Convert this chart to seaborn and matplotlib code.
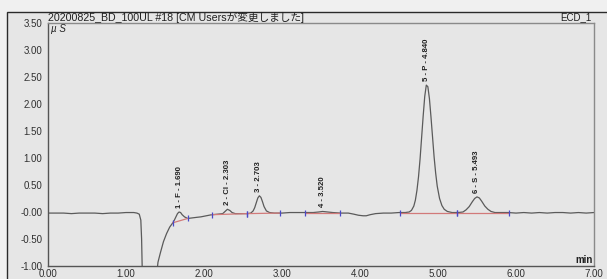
import matplotlib
matplotlib.use("Agg")
import matplotlib.pyplot as plt
import seaborn as sns
import pandas as pd
from matplotlib.patches import Rectangle
from matplotlib.ticker import MultipleLocator, FixedLocator, FixedFormatter

# chromatogram trace (time in min, signal in uS)
time_min = [0.00, 0.10, 0.20, 0.30, 0.40, 0.50, 0.60, 0.70, 0.80, 0.90, 1.00, 1.05, 1.10, 1.14,
            1.17, 1.19, 1.20, 1.21, 1.39, 1.41, 1.44, 1.48, 1.52, 1.56, 1.60, 1.62, 1.64, 1.66,
            1.68, 1.70, 1.72, 1.75, 1.79, 1.84, 1.90, 1.96, 2.03, 2.10, 2.18, 2.24, 2.27, 2.30,
            2.33, 2.36, 2.40, 2.48, 2.56, 2.60, 2.63, 2.65, 2.67, 2.69, 2.71, 2.73, 2.75, 2.77,
            2.80, 2.84, 2.90, 3.00, 3.10, 3.20, 3.30, 3.40, 3.47, 3.52, 3.58, 3.65, 3.75, 3.85,
            3.92, 3.98, 4.04, 4.08, 4.13, 4.20, 4.30, 4.40, 4.50, 4.58, 4.63, 4.66, 4.69, 4.71,
            4.73, 4.75, 4.77, 4.79, 4.81, 4.83, 4.85, 4.87, 4.89, 4.91, 4.93, 4.95, 4.97, 4.99,
            5.02, 5.05, 5.08, 5.12, 5.18, 5.26, 5.32, 5.36, 5.40, 5.44, 5.47, 5.50, 5.53, 5.56,
            5.60, 5.64, 5.68, 5.73, 5.80, 5.90, 6.00, 6.10, 6.20, 6.30, 6.40, 6.50, 6.60, 6.70,
            6.80, 6.90, 7.00]
signal_us = [-0.02, -0.02, -0.02, -0.03, -0.02, -0.02, -0.02, -0.03, -0.02, -0.02, -0.01, -0.01, -0.01, -0.02,
             -0.04, -0.15, -0.50, -1.20, -1.20, -0.93, -0.76, -0.55, -0.40, -0.28, -0.20, -0.15, -0.09, -0.03,
             0.00, -0.01, -0.05, -0.09, -0.12, -0.11, -0.10, -0.09, -0.07, -0.05, -0.04, -0.03, 0.01, 0.05,
             0.03, -0.01, -0.03, -0.03, -0.03, -0.02, 0.02, 0.08, 0.17, 0.26, 0.30, 0.27, 0.19, 0.10,
             0.02, -0.01, -0.02, -0.02, -0.01, -0.01, -0.01, -0.01, 0.00, 0.01, 0.00, -0.01, -0.02, -0.02,
             -0.04, -0.06, -0.07, -0.07, -0.05, -0.03, -0.02, -0.02, -0.01, -0.01, 0.00, 0.03, 0.11, 0.22,
             0.40, 0.65, 0.98, 1.38, 1.78, 2.14, 2.35, 2.32, 2.10, 1.76, 1.38, 1.02, 0.72, 0.48,
             0.25, 0.12, 0.05, 0.01, -0.01, -0.01, 0.00, 0.04, 0.10, 0.19, 0.25, 0.28, 0.26, 0.20,
             0.11, 0.05, 0.01, -0.01, -0.01, -0.01, -0.02, -0.01, -0.02, -0.01, -0.02, -0.01, -0.01, -0.02,
             -0.01, -0.02, -0.01]

# peak annotations
peak_labels = ["1 - F - 1.690", "2 - Cl - 2.303", "3 - 2.703", "4 - 3.520", "5 - P - 4.840", "6 - S - 5.493"]
peak_times = [1.690, 2.303, 2.703, 3.520, 4.850, 5.493]
peak_tops = [0.00, 0.05, 0.30, 0.02, 2.35, 0.28]

# integration baselines (start / end of each peak)
base_t0 = [1.60, 2.10, 2.55, 3.29, 4.51, 5.24]
base_y0 = [-0.20, -0.05, -0.03, -0.01, -0.01, -0.01]
base_t1 = [1.79, 2.55, 2.97, 3.74, 5.24, 5.91]
base_y1 = [-0.12, -0.03, -0.02, -0.01, -0.01, -0.01]

y_ticks = [-1.0, -0.5, 0.0, 0.5, 1.0, 1.5, 2.0, 2.5, 3.0, 3.5]
y_tick_labels = ["-1.00", "-0.50", "-0.00", "0.50", "1.00", "1.50", "2.00", "2.50", "3.00", "3.50"]
x_ticks = [0, 1, 2, 3, 4, 5, 6, 7]
x_tick_labels = ["0.00", "1.00", "2.00", "3.00", "4.00", "5.00", "6.00", "7.00"]

sns.set_style("white")
plt.rcParams['font.family'] = ['Liberation Sans', 'Noto Sans CJK JP', 'DejaVu Sans']

W, H = 607, 279
fig = plt.figure(figsize=(W / 100, H / 100), dpi=100, facecolor='#f0f0f0')
fig.add_artist(Rectangle((7 / W, -0.1), 1.1, 1 - 12 / H + 0.1, transform=fig.transFigure,
                         facecolor='#e6e6e6', edgecolor='#2a2a2a', lw=1.0, zorder=-5))

ax = fig.add_axes([48 / W, 13 / H, (594 - 48) / W, (266 - 23) / H])
ax.set_facecolor('#e6e6e6')

df = pd.DataFrame({"time": time_min, "signal": signal_us})
sns.lineplot(data=df, x="time", y="signal", sort=False, estimator=None, color='#5a5a5a', lw=0.9, ax=ax)

for t0, y0, t1, y1 in zip(base_t0, base_y0, base_t1, base_y1):
    ax.plot([t0, t1], [y0, y1], color='#d27a7a', lw=0.9, zorder=3)
    ax.plot([t0, t1], [y0, y1], ls='none', marker='|', ms=5, mew=0.9, color='#4a4ac8', zorder=4)

for lab, t, top in zip(peak_labels, peak_times, peak_tops):
    ax.annotate(lab, (t, top), xytext=(0, 3), textcoords='offset points', rotation=90,
                ha='center', va='bottom', fontsize=5.6, color='#202020',
                family=['Liberation Sans Narrow', 'Liberation Sans'], fontweight='bold')

ax.set_xlim(0, 7)
ax.set_ylim(-1.0, 3.5)
ax.yaxis.set_major_locator(FixedLocator(y_ticks))
ax.yaxis.set_major_formatter(FixedFormatter(y_tick_labels))
ax.xaxis.set_major_locator(FixedLocator(x_ticks))
ax.xaxis.set_major_formatter(FixedFormatter(x_tick_labels))
ax.yaxis.set_minor_locator(MultipleLocator(0.1))
ax.xaxis.set_minor_locator(MultipleLocator(0.2))
ax.tick_params(axis='y', which='major', direction='out', length=3, width=0.8, color='#555555',
               labelsize=7, pad=1, labelcolor='#303030')
ax.tick_params(axis='y', which='minor', direction='in', length=2, width=0.6, color='#555555')
ax.tick_params(axis='x', which='major', direction='in', length=3, width=0.8, color='#555555',
               labelsize=7, pad=2, labelcolor='#303030')
ax.tick_params(axis='x', which='minor', direction='in', length=2, width=0.6, color='#555555')
ax.set_xlabel("")
ax.set_ylabel("")
for side in ['left', 'bottom']:
    ax.spines[side].set_color('#555555')
    ax.spines[side].set_linewidth(1.0)
for side in ['top', 'right']:
    ax.spines[side].set_color('#8a8a8a')
    ax.spines[side].set_linewidth(1.0)

ax.text(0.0, 1.0, "20200825_BD_100UL #18 [CM Usersが変更しました]", transform=ax.transAxes,
        ha='left', va='bottom', fontsize=7.7, color='#202020')
ax.text(0.995, 1.005, "ECD_1", transform=ax.transAxes, ha='right', va='bottom', fontsize=7, color='#202020')
ax.text(0.005, 0.995, "µ S", transform=ax.transAxes, ha='left', va='top', fontsize=7,
        color='#202020', style='italic')
ax.text(0.998, 0.005, "min", transform=ax.transAxes, ha='right', va='bottom', fontsize=7,
        color='#202020', fontweight='bold')

fig.savefig("out.png", dpi=100, facecolor=fig.get_facecolor())
plt.close(fig)
